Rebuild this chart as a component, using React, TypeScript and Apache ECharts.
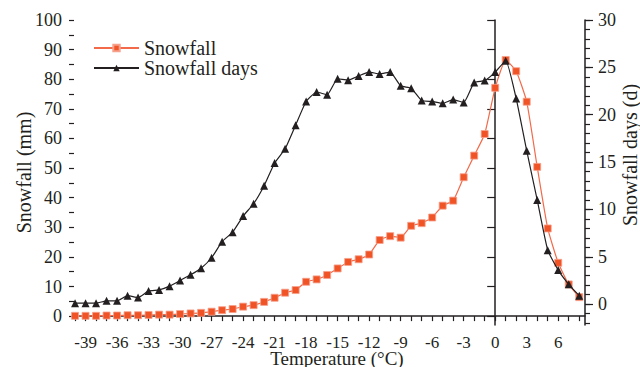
import React, { useEffect, useRef } from 'react';
import * as echarts from 'echarts';

const temperatures = [-40, -39, -38, -37, -36, -35, -34, -33, -32, -31, -30, -29, -28, -27, -26, -25, -24, -23, -22, -21, -20, -19, -18, -17, -16, -15, -14, -13, -12, -11, -10, -9, -8, -7, -6, -5, -4, -3, -2, -1, 0, 1, 2, 3, 4, 5, 6, 7, 8];
const snowfall = [0.1, 0.1, 0.1, 0.2, 0.2, 0.3, 0.3, 0.4, 0.5, 0.5, 0.7, 0.9, 1.1, 1.5, 2.0, 2.4, 3.2, 3.7, 4.8, 6.2, 7.9, 8.8, 11.6, 12.4, 13.9, 16.1, 18.3, 19.2, 20.8, 25.7, 27.0, 26.5, 30.5, 31.4, 33.3, 37.3, 39.0, 46.9, 54.2, 61.5, 77.1, 86.5, 82.7, 72.4, 50.4, 29.6, 18.0, 10.7, 6.4];
const snowfallDays = [0.1, 0.1, 0.1, 0.35, 0.35, 0.9, 0.7, 1.4, 1.5, 1.9, 2.5, 3.1, 3.8, 4.9, 6.6, 7.6, 9.3, 10.6, 12.5, 14.9, 16.4, 18.9, 21.4, 22.4, 22.1, 23.8, 23.65, 24.1, 24.5, 24.3, 24.5, 23.05, 22.8, 21.5, 21.4, 21.2, 21.6, 21.3, 23.4, 23.6, 24.5, 25.7, 21.7, 16.2, 11.0, 5.7, 3.6, 2.1, 0.9];
const xLabelValues = [-39, -36, -33, -30, -27, -24, -21, -18, -15, -12, -9, -6, -3, 0, 3, 6];
const leftLabelValues = [0, 10, 20, 30, 40, 50, 60, 70, 80, 90, 100];
const leftMinorTicks = [0, 5, 10, 15, 20, 25, 30, 35, 40, 45, 50, 55, 60, 65, 70, 75, 80, 85, 90, 95, 100];
const rightLabelValues = [0, 5, 10, 15, 20, 25, 30];
const rightMinorTicks = [-2, -1, 0, 1, 2, 3, 4, 5, 6, 7, 8, 9, 10, 11, 12, 13, 14, 15, 16, 17, 18, 19, 20, 21, 22, 23, 24, 25, 26, 27, 28, 29, 30];

const FONT = '"Liberation Serif", "Times New Roman", serif';
const INK = '#231f20';
const RED = '#ef5326';

export default function App() {
  const ref = useRef<HTMLDivElement>(null);
  useEffect(() => {
    if (!ref.current) return;
    const chart = echarts.init(ref.current, null, { renderer: 'svg' });
    const axisLine = { show: true, lineStyle: { color: INK, width: 1.5 } };
    const labelStyle = { color: INK, fontFamily: FONT, fontSize: 18 };
    chart.setOption({
      animation: false,
      backgroundColor: '#ffffff',
      textStyle: { fontFamily: FONT },
      grid: { left: 74, right: 55, top: 20, bottom: 42, outerBoundsMode: 'none' },
      legend: {
        orient: 'vertical',
        left: 93,
        top: 38,
        padding: 0,
        itemGap: 0,
        itemWidth: 45,
        itemHeight: 8,
        textStyle: { color: INK, fontFamily: FONT, fontSize: 20, lineHeight: 19 },
        data: ['Snowfall', 'Snowfall days'],
      },
      xAxis: {
        type: 'value',
        min: -40.1,
        max: 8.55,
        name: 'Temperature (°C)',
        nameLocation: 'middle',
        nameGap: 26,
        nameMoveOverlap: false,
        nameTextStyle: { color: INK, fontFamily: FONT, fontSize: 19, lineHeight: 15, padding: [0, 0, 0, 15] },
        axisLine,
        axisTick: { show: true, inside: false, length: 5, customValues: temperatures, lineStyle: { color: INK, width: 1.2 } },
        axisLabel: { ...labelStyle, fontSize: 17, lineHeight: 14, margin: 10, customValues: xLabelValues },
        splitLine: { show: false },
      },
      yAxis: [
        {
          type: 'value',
          position: 'left',
          min: -3,
          max: 100,
          name: 'Snowfall (mm)',
          nameLocation: 'middle',
          nameGap: 40,
          nameMoveOverlap: false,
          nameTextStyle: { color: INK, fontFamily: FONT, fontSize: 20 },
          axisLine,
          axisTick: { show: true, inside: false, length: 8, customValues: leftLabelValues, lineStyle: { color: INK, width: 1.2 } },
          axisLabel: { ...labelStyle, margin: 12, customValues: leftLabelValues },
          splitLine: { show: false },
        },
        {
          type: 'value',
          position: 'left',
          min: -3,
          max: 100,
          axisLine: { show: false },
          axisTick: { show: true, inside: false, length: 5, customValues: leftMinorTicks, lineStyle: { color: INK, width: 1.2 } },
          axisLabel: { show: false },
          splitLine: { show: false },
        },
        {
          type: 'value',
          position: 'right',
          min: -2.2,
          max: 30,
          name: 'Snowfall days (d)',
          nameLocation: 'middle',
          nameGap: 35,
          nameMoveOverlap: false,
          nameTextStyle: { color: INK, fontFamily: FONT, fontSize: 20, padding: [0, 0, 0, 35] },
          axisLine,
          axisTick: { show: true, inside: false, length: 8, customValues: rightLabelValues, lineStyle: { color: INK, width: 1.2 } },
          axisLabel: { ...labelStyle, margin: 13, customValues: rightLabelValues },
          splitLine: { show: false },
        },
        {
          type: 'value',
          position: 'right',
          min: -2.2,
          max: 30,
          axisLine: { show: false },
          axisTick: { show: true, inside: false, length: 5, customValues: rightMinorTicks, lineStyle: { color: INK, width: 1.2 } },
          axisLabel: { show: false },
          splitLine: { show: false },
        },
      ],
      series: [
        {
          name: 'Snowfall',
          type: 'line',
          yAxisIndex: 0,
          data: temperatures.map((t, i) => [t, snowfall[i]]),
          symbol: 'rect',
          symbolSize: 7,
          smooth: 0.15,
          lineStyle: { color: '#f26a4a', width: 1.2 },
          itemStyle: { color: RED, borderColor: '#f7a08a', borderWidth: 0.8 },
          z: 2,
        },
        {
          name: 'Snowfall days',
          type: 'line',
          yAxisIndex: 2,
          data: temperatures.map((t, i) => [t, snowfallDays[i]]),
          symbol: 'triangle',
          symbolSize: 8,
          smooth: 0.15,
          lineStyle: { color: INK, width: 1.2 },
          itemStyle: { color: INK },
          z: 3,
        },
      ],
    });
    return () => chart.dispose();
  }, []);
  return <div ref={ref} style={{ width: 640, height: 367, position: 'absolute', left: 0, top: 0 }} />;
}
